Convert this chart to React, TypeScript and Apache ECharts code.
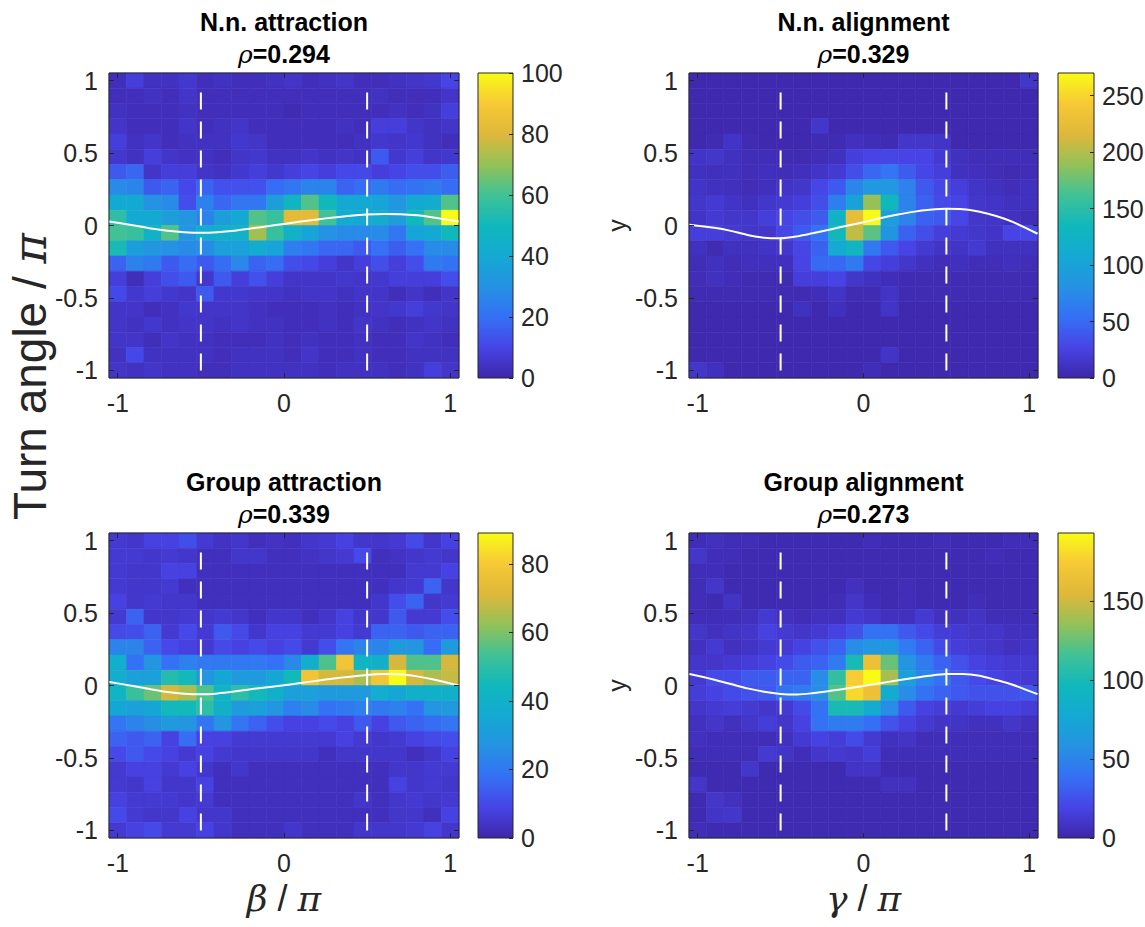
import React, { useEffect, useRef } from 'react';
import * as echarts from 'echarts';

const FONT = '"Liberation Sans", Arial, Helvetica, sans-serif';
const TEXT = '#262626';

// bins: 20 centres from -1 to 1 (imagesc style)
const N_BINS = 20;
const HALF = 1 / (N_BINS - 1);
const LIM = 1 + HALF;

const X_TICKS = [-1, 0, 1];
const Y_TICKS = [-1, -0.5, 0, 0.5, 1];
const ZONE_LINES_X = [-0.5, 0.5];

const PARULA = ['#3e26a8', '#4744e6', '#3570f5', '#2592e3', '#14a9d3', '#10b8bc', '#40c296', '#94c158', '#dfb83a', '#f7c936', '#f9fb15'];

const CURVE_X = [-1.05, -0.9, -0.8, -0.7, -0.6, -0.5, -0.4, -0.3, -0.2, -0.1, 0, 0.1, 0.2, 0.3, 0.4, 0.5, 0.6, 0.7, 0.8, 0.9, 1.05];
const CURVE_NN_ATTR = [0.028, 0.0, -0.02, -0.036, -0.046, -0.05, -0.046, -0.036, -0.021, -0.005, 0.011, 0.027, 0.042, 0.056, 0.068, 0.076, 0.08, 0.078, 0.07, 0.055, 0.028];
const CURVE_NN_ALIGN = [0.005, -0.016, -0.037, -0.065, -0.084, -0.088, -0.075, -0.052, -0.027, -0.002, 0.023, 0.05, 0.074, 0.094, 0.108, 0.115, 0.113, 0.095, 0.066, 0.025, -0.057];
const CURVE_GRP_ATTR = [0.024, -0.005, -0.026, -0.045, -0.057, -0.061, -0.055, -0.042, -0.026, -0.012, 0.001, 0.017, 0.033, 0.048, 0.061, 0.073, 0.079, 0.077, 0.063, 0.042, 0.001];
const CURVE_GRP_ALIGN = [0.079, 0.04, 0.01, -0.02, -0.043, -0.058, -0.062, -0.052, -0.037, -0.02, -0.003, 0.016, 0.034, 0.052, 0.068, 0.079, 0.08, 0.068, 0.038, 0.005, -0.06];

// rows from top (turn angle = +1) to bottom (-1), columns from left (-1) to right (+1)
const GRID_NN_ATTR: number[][] = [
  [3, 8, 4, 4, 6, 3, 4, 3, 3, 4, 5, 3, 4, 5, 3, 3, 4, 5, 6, 10],
  [3, 3, 4, 3, 5, 3, 3, 3, 3, 3, 3, 3, 3, 3, 3, 4, 3, 3, 3, 5],
  [4, 3, 3, 3, 4, 3, 3, 3, 3, 3, 2, 3, 3, 3, 3, 3, 4, 3, 4, 8],
  [5, 3, 3, 3, 5, 3, 4, 5, 3, 3, 3, 3, 3, 4, 3, 8, 8, 5, 4, 5],
  [8, 4, 5, 3, 4, 4, 4, 6, 5, 3, 3, 3, 3, 3, 4, 6, 5, 6, 4, 3],
  [6, 4, 8, 5, 4, 4, 3, 5, 6, 4, 4, 5, 4, 5, 4, 15, 6, 8, 5, 6],
  [15, 18, 5, 8, 8, 5, 4, 6, 8, 6, 8, 10, 8, 11, 11, 8, 10, 12, 12, 16],
  [28, 26, 15, 17, 11, 17, 13, 13, 13, 19, 22, 26, 26, 17, 19, 23, 19, 21, 23, 19],
  [40, 40, 30, 28, 12, 25, 18, 22, 22, 35, 48, 62, 50, 40, 40, 38, 32, 40, 42, 62],
  [56, 40, 40, 35, 32, 25, 35, 40, 62, 58, 82, 82, 60, 42, 40, 42, 35, 50, 62, 100],
  [60, 58, 45, 62, 32, 42, 44, 45, 72, 58, 45, 38, 30, 28, 28, 28, 22, 38, 40, 50],
  [52, 35, 32, 30, 28, 28, 36, 36, 42, 38, 24, 22, 18, 18, 15, 20, 16, 20, 28, 28],
  [17, 25, 23, 15, 19, 15, 19, 27, 17, 19, 12, 11, 8, 5, 8, 12, 8, 12, 23, 21],
  [8, 3, 8, 12, 15, 6, 15, 8, 13, 8, 5, 5, 5, 6, 5, 6, 8, 8, 8, 12],
  [11, 6, 8, 6, 5, 15, 6, 6, 5, 5, 4, 5, 5, 4, 5, 5, 3, 5, 3, 5],
  [5, 5, 3, 4, 6, 5, 5, 5, 4, 3, 3, 3, 4, 3, 4, 5, 6, 8, 6, 5],
  [5, 4, 6, 4, 5, 5, 4, 5, 4, 4, 3, 3, 4, 3, 5, 4, 3, 4, 5, 4],
  [5, 5, 3, 5, 4, 4, 3, 3, 3, 4, 3, 4, 3, 3, 4, 3, 3, 5, 4, 3],
  [4, 11, 4, 4, 4, 4, 3, 4, 4, 4, 3, 5, 3, 3, 4, 3, 3, 4, 4, 4],
  [5, 4, 5, 4, 4, 3, 3, 4, 4, 4, 4, 4, 3, 4, 4, 4, 3, 4, 8, 5],
];

const GRID_NN_ALIGN: number[][] = [
  [3, 3, 3, 3, 3, 3, 3, 3, 3, 3, 3, 3, 3, 3, 3, 3, 3, 3, 3, 15],
  [3, 3, 3, 3, 3, 3, 3, 3, 3, 3, 3, 3, 3, 3, 3, 3, 3, 3, 3, 3],
  [3, 3, 3, 3, 3, 3, 3, 3, 3, 3, 3, 3, 3, 3, 3, 3, 3, 3, 3, 3],
  [3, 3, 3, 3, 3, 3, 3, 15, 3, 3, 3, 3, 3, 3, 3, 3, 3, 3, 3, 3],
  [3, 5, 13, 5, 3, 3, 3, 5, 5, 10, 7, 5, 15, 15, 13, 3, 3, 3, 3, 3],
  [13, 15, 10, 7, 7, 5, 5, 7, 10, 22, 26, 28, 26, 26, 18, 10, 7, 7, 7, 7],
  [10, 9, 10, 7, 9, 7, 9, 13, 18, 33, 48, 58, 42, 28, 22, 10, 9, 7, 5, 7],
  [13, 10, 9, 7, 9, 13, 15, 28, 40, 72, 88, 88, 68, 40, 28, 22, 13, 10, 7, 10],
  [15, 18, 13, 10, 15, 18, 22, 33, 65, 100, 190, 135, 70, 45, 30, 26, 15, 13, 10, 10],
  [13, 18, 15, 15, 22, 26, 33, 42, 125, 225, 270, 95, 70, 45, 40, 28, 15, 13, 10, 7],
  [22, 22, 18, 15, 15, 28, 40, 55, 135, 205, 170, 85, 45, 33, 22, 18, 15, 13, 26, 28],
  [10, 5, 10, 10, 13, 15, 28, 45, 110, 130, 60, 40, 26, 18, 13, 13, 18, 10, 10, 10],
  [7, 10, 7, 9, 9, 9, 26, 50, 50, 62, 28, 22, 15, 10, 7, 9, 7, 7, 9, 7],
  [7, 10, 7, 5, 5, 5, 22, 22, 26, 15, 10, 7, 5, 5, 5, 5, 5, 5, 5, 5],
  [5, 5, 5, 5, 5, 5, 5, 7, 13, 5, 5, 13, 5, 5, 5, 5, 5, 5, 5, 5],
  [3, 3, 3, 3, 3, 3, 10, 3, 9, 3, 3, 13, 3, 3, 3, 3, 3, 3, 3, 3],
  [3, 3, 3, 3, 3, 3, 3, 3, 3, 3, 3, 3, 3, 3, 3, 3, 3, 3, 3, 3],
  [3, 3, 3, 3, 3, 3, 3, 3, 3, 3, 3, 3, 3, 3, 3, 3, 3, 3, 3, 3],
  [3, 3, 3, 3, 3, 3, 3, 3, 3, 3, 3, 13, 3, 3, 3, 3, 3, 3, 3, 3],
  [15, 9, 3, 3, 3, 3, 3, 3, 3, 3, 7, 3, 3, 3, 3, 3, 3, 3, 3, 3],
];

const GRID_GRP_ATTR: number[][] = [
  [6, 5, 8, 8, 11, 6, 4, 5, 3, 4, 3, 5, 6, 8, 5, 5, 6, 10, 5, 8],
  [6, 6, 5, 6, 5, 3, 3, 5, 5, 3, 3, 4, 5, 6, 10, 3, 4, 5, 6, 5],
  [6, 5, 5, 8, 8, 3, 3, 3, 3, 3, 3, 3, 3, 3, 3, 3, 3, 6, 6, 8],
  [6, 5, 5, 6, 3, 3, 3, 3, 3, 3, 3, 3, 3, 3, 3, 3, 5, 6, 15, 5],
  [8, 5, 6, 5, 5, 3, 3, 3, 3, 3, 3, 3, 3, 3, 3, 5, 11, 15, 5, 6],
  [6, 15, 5, 5, 6, 5, 6, 5, 3, 5, 5, 3, 5, 8, 5, 5, 13, 6, 6, 11],
  [10, 11, 15, 6, 10, 6, 13, 10, 5, 8, 8, 6, 6, 8, 6, 15, 15, 13, 15, 15],
  [23, 23, 15, 10, 8, 6, 10, 8, 10, 8, 10, 6, 11, 19, 23, 23, 30, 28, 17, 30],
  [38, 18, 28, 18, 22, 20, 20, 20, 20, 18, 24, 38, 55, 78, 42, 40, 70, 55, 55, 70],
  [38, 32, 32, 48, 45, 28, 35, 30, 30, 35, 45, 78, 70, 70, 65, 78, 89, 70, 65, 68],
  [42, 52, 58, 70, 65, 55, 42, 50, 45, 40, 32, 32, 30, 30, 30, 38, 35, 40, 40, 40],
  [35, 32, 35, 45, 45, 50, 40, 30, 32, 28, 22, 25, 18, 20, 22, 20, 22, 18, 28, 30],
  [19, 23, 26, 30, 28, 19, 28, 19, 15, 11, 8, 8, 10, 8, 13, 8, 13, 15, 17, 19],
  [15, 13, 15, 8, 17, 8, 8, 6, 6, 6, 6, 6, 6, 8, 6, 5, 6, 8, 10, 11],
  [10, 13, 10, 8, 6, 8, 6, 5, 5, 5, 5, 5, 3, 5, 5, 5, 5, 3, 5, 8],
  [6, 8, 8, 6, 8, 5, 3, 5, 3, 3, 3, 3, 3, 3, 3, 3, 5, 5, 6, 6],
  [6, 5, 8, 5, 5, 8, 3, 3, 3, 3, 3, 3, 3, 3, 3, 3, 8, 5, 6, 5],
  [8, 6, 6, 6, 5, 6, 3, 3, 3, 3, 3, 3, 3, 3, 5, 3, 5, 6, 5, 6],
  [10, 6, 5, 5, 8, 5, 5, 3, 3, 3, 3, 3, 3, 3, 3, 3, 5, 5, 3, 8],
  [6, 8, 10, 6, 6, 8, 5, 3, 3, 3, 5, 3, 3, 3, 5, 5, 5, 6, 8, 5],
];

const GRID_GRP_ALIGN: number[][] = [
  [5, 7, 5, 5, 3, 3, 3, 3, 3, 3, 5, 3, 3, 3, 5, 3, 3, 3, 5, 5],
  [10, 5, 5, 3, 3, 3, 3, 3, 3, 3, 3, 3, 3, 3, 3, 3, 3, 5, 3, 3],
  [5, 5, 3, 3, 3, 3, 3, 3, 3, 3, 3, 3, 3, 3, 3, 3, 3, 3, 3, 3],
  [5, 10, 3, 3, 3, 3, 3, 3, 3, 7, 3, 3, 5, 3, 3, 3, 3, 3, 3, 3],
  [5, 3, 9, 3, 3, 3, 3, 3, 5, 10, 5, 3, 5, 3, 3, 3, 5, 3, 3, 3],
  [5, 5, 5, 7, 13, 7, 5, 7, 7, 13, 10, 7, 7, 13, 7, 7, 9, 5, 5, 5],
  [10, 7, 9, 10, 18, 13, 10, 13, 18, 25, 40, 40, 28, 22, 15, 13, 10, 10, 7, 7],
  [7, 13, 7, 9, 13, 13, 18, 25, 33, 55, 62, 62, 45, 33, 22, 15, 13, 10, 7, 9],
  [10, 10, 13, 15, 18, 22, 30, 33, 45, 100, 165, 125, 60, 45, 33, 25, 18, 15, 13, 13],
  [13, 22, 22, 28, 30, 33, 33, 55, 110, 175, 193, 140, 70, 50, 40, 28, 22, 18, 15, 13],
  [15, 18, 22, 25, 28, 40, 45, 55, 120, 180, 165, 80, 55, 40, 33, 28, 25, 25, 25, 28],
  [10, 13, 15, 13, 10, 13, 22, 40, 100, 100, 80, 55, 28, 18, 15, 13, 15, 18, 18, 15],
  [7, 10, 7, 10, 15, 10, 18, 40, 45, 45, 38, 26, 18, 13, 9, 9, 7, 7, 10, 7],
  [7, 5, 5, 5, 5, 7, 13, 18, 15, 22, 13, 7, 9, 5, 5, 5, 5, 5, 5, 5],
  [5, 5, 5, 5, 13, 9, 5, 10, 13, 10, 15, 5, 5, 5, 5, 5, 5, 5, 5, 5],
  [3, 3, 3, 10, 3, 3, 3, 3, 3, 9, 9, 3, 3, 3, 3, 3, 3, 3, 3, 3],
  [10, 3, 3, 3, 3, 3, 3, 3, 3, 3, 3, 7, 7, 3, 3, 3, 3, 3, 3, 3],
  [3, 10, 7, 3, 3, 3, 3, 3, 3, 3, 3, 3, 3, 3, 3, 3, 3, 3, 3, 3],
  [3, 9, 11, 3, 3, 3, 3, 3, 3, 3, 3, 3, 3, 3, 3, 3, 3, 3, 3, 3],
  [5, 3, 3, 3, 3, 3, 3, 3, 3, 3, 3, 3, 3, 3, 3, 3, 3, 3, 3, 3],
];

const TITLES = ['N.n. attraction', 'N.n. alignment', 'Group attraction', 'Group alignment'];
const RHOS = ['0.294', '0.329', '0.339', '0.273'];
const COLOR_MAX = [100, 270, 89, 193];
const COLOR_STEP = [20, 50, 20, 50];
const GRIDS = [GRID_NN_ATTR, GRID_NN_ALIGN, GRID_GRP_ATTR, GRID_GRP_ALIGN];
const CURVES = [CURVE_NN_ATTR, CURVE_NN_ALIGN, CURVE_GRP_ATTR, CURVE_GRP_ALIGN];

// layout (pixels)
const LAYOUT = [
  { left: 109, top: 73, width: 350, height: 305, cbLeft: 478, cbWidth: 35 },
  { left: 689, top: 73, width: 349, height: 305, cbLeft: 1058, cbWidth: 36 },
  { left: 109, top: 533, width: 350, height: 305, cbLeft: 478, cbWidth: 35 },
  { left: 689, top: 533, width: 349, height: 305, cbLeft: 1058, cbWidth: 36 },
];

const TICK_FS = 25;
const TITLE_FS = 25;
const BIG_FS = 36;
const YLABEL_FS = 46;

function toCells(grid: number[][]) {
  const step = 2 * LIM / N_BINS;
  const out: number[][] = [];
  grid.forEach((row, r) => {
    row.forEach((v, c) => {
      const x0 = -LIM + c * step;
      const y1 = LIM - r * step;
      out.push([x0, y1 - step, x0 + step, y1, v]);
    });
  });
  return out;
}

const fmt = (v: number) => String(v);

function buildOption() {
  const grid: any[] = [];
  const xAxis: any[] = [];
  const yAxis: any[] = [];
  const series: any[] = [];
  const visualMap: any[] = [];
  const elements: any[] = [];

  const gradientStops = PARULA.map((c, i) => ({ offset: i / (PARULA.length - 1), color: c }));

  LAYOUT.forEach((L) => {
    grid.push({
      left: L.left, top: L.top, width: L.width, height: L.height,
      show: true, borderColor: TEXT, borderWidth: 1, backgroundColor: 'transparent', z: 4,
      containLabel: false, outerBoundsMode: 'none',
    });
  });
  LAYOUT.forEach((L) => {
    grid.push({
      left: L.cbLeft, top: L.top, width: L.cbWidth, height: L.height,
      show: true, borderColor: TEXT, borderWidth: 1, backgroundColor: 'transparent', z: 4,
      containLabel: false, outerBoundsMode: 'none',
    });
  });

  const tickStyle = { color: TEXT, width: 1 };
  const labelStyle = { fontSize: TICK_FS, color: TEXT, fontFamily: FONT };
  const noLine = { show: false, onZero: false };

  LAYOUT.forEach((L, i) => {
    xAxis.push({
      gridIndex: i, type: 'value', position: 'bottom', min: -LIM, max: LIM,
      axisLine: noLine, splitLine: { show: false },
      axisTick: { show: true, inside: true, length: 5, lineStyle: tickStyle, customValues: X_TICKS },
      axisLabel: { ...labelStyle, margin: 12, customValues: X_TICKS, formatter: fmt },
      z: 6,
    });
    xAxis.push({
      gridIndex: i, type: 'value', position: 'top', min: -LIM, max: LIM,
      axisLine: noLine, splitLine: { show: false },
      axisTick: { show: true, inside: true, length: 5, lineStyle: tickStyle, customValues: X_TICKS },
      axisLabel: { show: false, customValues: X_TICKS },
      z: 6,
    });
    yAxis.push({
      gridIndex: i, type: 'value', position: 'left', min: -LIM, max: LIM,
      axisLine: noLine, splitLine: { show: false },
      axisTick: { show: true, inside: true, length: 5, lineStyle: tickStyle, customValues: Y_TICKS },
      axisLabel: { ...labelStyle, margin: 11, customValues: Y_TICKS, formatter: fmt },
      z: 6,
    });
    yAxis.push({
      gridIndex: i, type: 'value', position: 'right', min: -LIM, max: LIM,
      axisLine: noLine, splitLine: { show: false },
      axisTick: { show: true, inside: true, length: 5, lineStyle: tickStyle, customValues: Y_TICKS },
      axisLabel: { show: false, customValues: Y_TICKS },
      z: 6,
    });
  });

  LAYOUT.forEach((L, i) => {
    const max = COLOR_MAX[i];
    const step = COLOR_STEP[i];
    xAxis.push({ gridIndex: 4 + i, type: 'value', min: 0, max: 1, show: false, axisLine: noLine });
    yAxis.push({
      gridIndex: 4 + i, type: 'value', position: 'right', min: 0, max, interval: step,
      axisLine: noLine, splitLine: { show: false },
      axisTick: { show: true, inside: true, length: 4, lineStyle: tickStyle },
      axisLabel: { ...labelStyle, margin: 8, showMaxLabel: max % step === 0, showMinLabel: true, formatter: fmt },
      z: 6,
    });
  });

  // heatmap cells
  LAYOUT.forEach((L, i) => {
    series.push({
      type: 'custom',
      xAxisIndex: 2 * i, yAxisIndex: 2 * i,
      data: toCells(GRIDS[i]),
      encode: { x: [0, 2], y: [1, 3] },
      silent: true,
      z: 2,
      renderItem: (params: any, api: any) => {
        const p0 = api.coord([api.value(0), api.value(3)]);
        const p1 = api.coord([api.value(2), api.value(1)]);
        const color = api.visual('color');
        return {
          type: 'rect',
          shape: { x: p0[0], y: p0[1], width: p1[0] - p0[0], height: p1[1] - p0[1] },
          style: { fill: color, stroke: color, lineWidth: 0.6 },
        };
      },
    });
    visualMap.push({
      type: 'continuous', show: false, seriesIndex: series.length - 1, dimension: 4,
      min: 0, max: COLOR_MAX[i], inRange: { color: PARULA },
    });
  });

  // fitted curves
  LAYOUT.forEach((L, i) => {
    series.push({
      type: 'line', xAxisIndex: 2 * i, yAxisIndex: 2 * i,
      data: CURVE_X.map((x, k) => [x, CURVES[i][k]]),
      smooth: 0.3, symbol: 'none', silent: true,
      lineStyle: { color: '#ffffff', width: 2 }, z: 5,
    });
  });

  // dashed zone lines
  LAYOUT.forEach((L, i) => {
    ZONE_LINES_X.forEach((x) => {
      series.push({
        type: 'line', xAxisIndex: 2 * i, yAxisIndex: 2 * i,
        data: [[x, -1], [x, 1]],
        symbol: 'none', silent: true,
        lineStyle: { color: '#ffffff', width: 2, type: [17, 12] }, z: 5,
      });
    });
  });

  // colorbars
  LAYOUT.forEach((L, i) => {
    series.push({
      type: 'custom', xAxisIndex: 8 + i, yAxisIndex: 8 + i,
      data: [[0, 0, 1, COLOR_MAX[i]]],
      encode: { x: [0, 2], y: [1, 3] },
      silent: true, z: 2,
      renderItem: (params: any, api: any) => {
        const p0 = api.coord([api.value(0), api.value(3)]);
        const p1 = api.coord([api.value(2), api.value(1)]);
        return {
          type: 'rect',
          shape: { x: p0[0], y: p0[1], width: p1[0] - p0[0], height: p1[1] - p0[1] },
          style: {
            fill: { type: 'linear', x: 0, y: 1, x2: 0, y2: 0, colorStops: gradientStops, global: false },
          },
        };
      },
    });
  });

  // titles
  LAYOUT.forEach((L, i) => {
    const cx = L.left + L.width / 2;
    elements.push({
      type: 'text', x: cx, y: L.top - 51, silent: true,
      style: {
        text: TITLES[i], fill: '#000', fontSize: TITLE_FS, fontWeight: 'bold', fontFamily: FONT,
        textAlign: 'center', align: 'center', textVerticalAlign: 'middle', verticalAlign: 'middle',
      },
    });
    elements.push({
      type: 'text', x: cx, y: L.top - 19, silent: true,
      style: {
        text: '{i|ρ}{b|=' + RHOS[i] + '}', fill: '#000',
        fontSize: TITLE_FS, fontWeight: 'bold', fontFamily: FONT,
        textAlign: 'center', align: 'center', textVerticalAlign: 'middle', verticalAlign: 'middle',
        rich: {
          i: { fontSize: TITLE_FS, fontStyle: 'italic', fontWeight: 'normal', fontFamily: '"DejaVu Serif", serif', fill: '#000' },
          b: { fontSize: TITLE_FS, fontWeight: 'bold', fontFamily: FONT, fill: '#000' },
        },
      },
    });
  });

  // "y" labels for right panels
  [1, 3].forEach((i) => {
    const L = LAYOUT[i];
    elements.push({
      type: 'text', x: 617, y: L.top + L.height / 2, rotation: Math.PI / 2, silent: true,
      style: {
        text: 'y', fill: TEXT, fontSize: TICK_FS, fontFamily: FONT,
        textAlign: 'center', align: 'center', textVerticalAlign: 'middle', verticalAlign: 'middle',
      },
    });
  });

  const richFor = (fs: number) => ({
    n: { fontSize: fs, fontFamily: FONT, fill: TEXT },
    i: { fontSize: fs, fontStyle: 'italic', fontFamily: '"DejaVu Serif", serif', fill: TEXT },
  });

  elements.push({
    type: 'text', x: 30, y: 520, rotation: Math.PI / 2, silent: true,
    style: {
      text: '{n|Turn angle / }{i|π}', fill: TEXT, fontSize: YLABEL_FS, fontFamily: FONT,
      textAlign: 'left', align: 'left', textVerticalAlign: 'middle', verticalAlign: 'middle',
      rich: richFor(YLABEL_FS),
    },
  });
  elements.push({
    type: 'text', x: LAYOUT[2].left + LAYOUT[2].width / 2, y: 898, silent: true,
    style: {
      text: '{i|β}{n| / }{i|π}', fill: TEXT, fontSize: BIG_FS, fontFamily: FONT,
      textAlign: 'center', align: 'center', textVerticalAlign: 'middle', verticalAlign: 'middle',
      rich: richFor(BIG_FS),
    },
  });
  elements.push({
    type: 'text', x: LAYOUT[3].left + LAYOUT[3].width / 2, y: 898, silent: true,
    style: {
      text: '{i|γ}{n| / }{i|π}', fill: TEXT, fontSize: BIG_FS, fontFamily: FONT,
      textAlign: 'center', align: 'center', textVerticalAlign: 'middle', verticalAlign: 'middle',
      rich: richFor(BIG_FS),
    },
  });

  return {
    animation: false,
    backgroundColor: '#ffffff',
    textStyle: { fontFamily: FONT },
    grid, xAxis, yAxis, series, visualMap,
    graphic: { elements },
  };
}

export default function App() {
  const ref = useRef<HTMLDivElement>(null);
  useEffect(() => {
    if (!ref.current) return;
    const chart = echarts.init(ref.current, undefined, { renderer: 'svg' });
    chart.setOption(buildOption() as any);
    return () => chart.dispose();
  }, []);
  return (
    <div
      ref={ref}
      style={{ position: 'absolute', left: 0, top: 0, width: 1145, height: 927, background: '#fff' }}
    />
  );
}
